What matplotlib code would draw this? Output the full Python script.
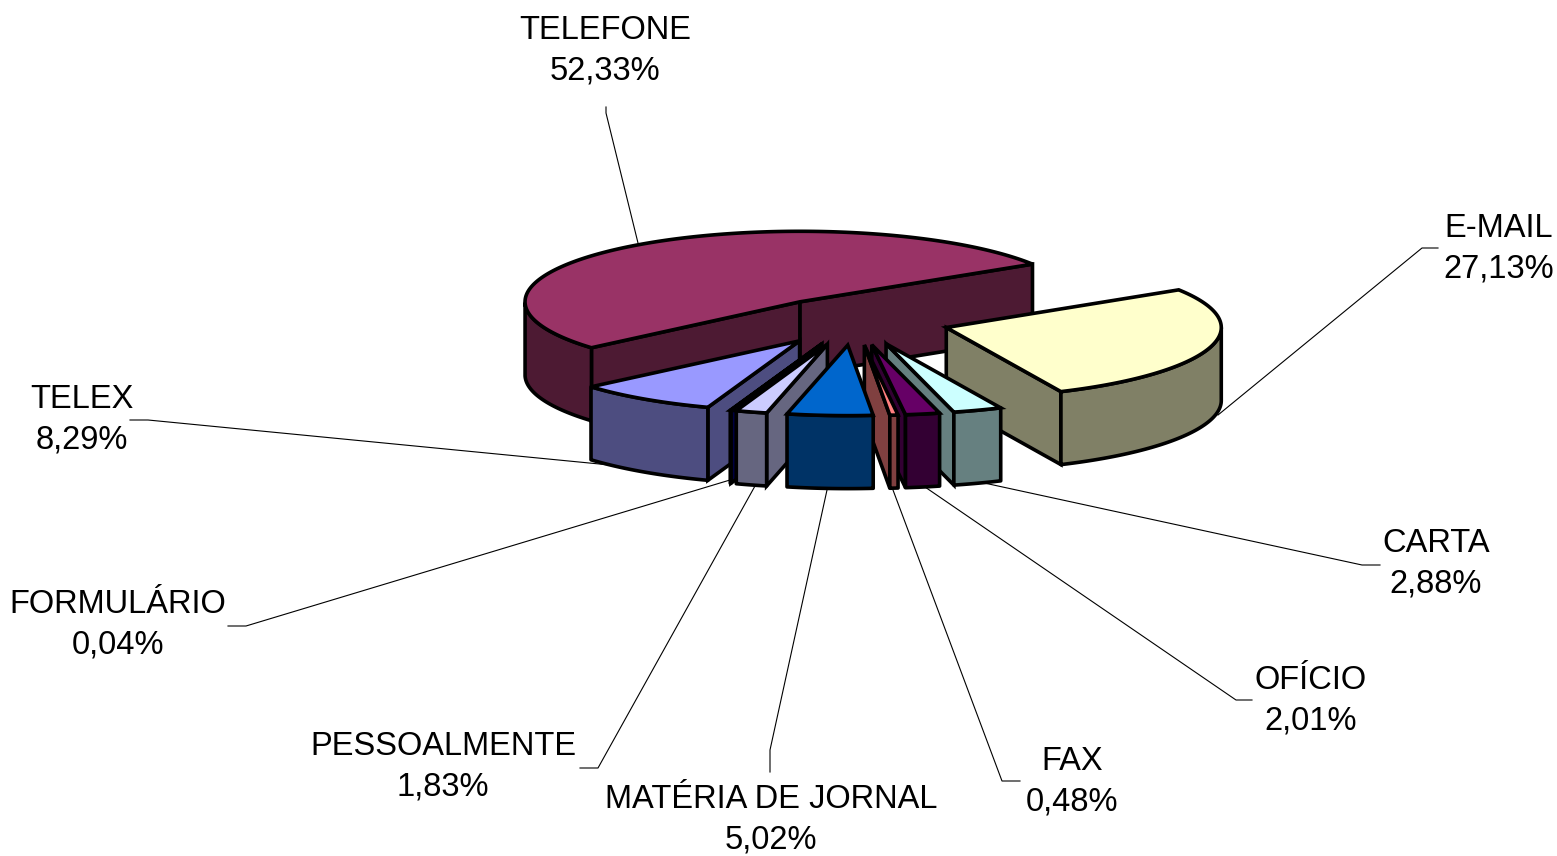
import numpy as np
import matplotlib
matplotlib.use("Agg")
import matplotlib.pyplot as plt
from matplotlib.patches import Polygon

plt.rcParams['font.family'] = ['Liberation Sans', 'DejaVu Sans']

# clockwise starting from e-mail
names = ["E-MAIL", "CARTA", "OFÍCIO", "FAX", "MATÉRIA DE JORNAL", "PESSOALMENTE", "FORMULÁRIO", "TELEX", "TELEFONE"]
values = [27.13, 2.88, 2.01, 0.48, 5.02, 1.83, 0.04, 8.29, 52.33]
tops = ["#FFFFCC", "#CCFFFF", "#660066", "#FF8080", "#0066CC", "#CCCCFF", "#000080", "#9999FF", "#993366"]
sides = ["#808066", "#668080", "#330033", "#804040", "#003366", "#666680", "#000040", "#4D4D80", "#4D1A33"]
explode = [0.35, 0.35, 0.35, 0.35, 0.35, 0.35, 0.35, 0.35, 0.33]

# label centres and leader lines, in pixels
label_pos = [(1499, 249), (1436, 564), (1311, 701), (1072, 782), (771, 820), (443, 767), (118, 625), (82, 420), (605, 51)]
leaders = [[(1438, 248), (1422, 248), (1218, 415)],
           [(1380, 565), (1362, 565), (975, 481)],
           [(1252, 700), (1236, 700), (925, 487)],
           [(1020, 781), (1002, 781), (893, 490)],
           [(770, 772), (770, 750), (827, 490)],
           [(580, 768), (598, 768), (755, 486)],
           [(228, 626), (246, 626), (730, 480)],
           [(130, 420), (148, 420), (620, 466)],
           [(606, 107), (606, 113), (638, 243)]]

CX, CY = 854, 320.5
RX, RY = 275, 70.5
DEPTH = 73
START = 32.3

paint_order = [8, 0, 1, 2, 3, 7, 6, 5, 4]


def pt(ang, r=1.0, apex=(0, 0)):
    a = np.radians(ang)
    return apex[0] + r * RX * np.cos(a), apex[1] - r * RY * np.sin(a)


def wall(ax, a, b, color):
    pts = [a, b, (b[0], b[1] + DEPTH), (a[0], a[1] + DEPTH)]
    ax.add_patch(Polygon(pts, closed=True, fc=color, ec="k", lw=2.6, joinstyle="miter"))


def draw_slice(ax, a1, a2, top, side, exp):
    mid = (a1 + a2) / 2
    apex = pt(mid, exp, (CX, CY))
    # the cut faces that look at the viewer
    if np.sin(np.radians(a1 + 90)) < 0:
        wall(ax, apex, pt(a1, 1, apex), side)
    if np.sin(np.radians(a2 - 90)) < 0:
        wall(ax, apex, pt(a2, 1, apex), side)
    # outer rim, front part only
    angs = np.linspace(a2, a1, 200)
    front = angs[np.sin(np.radians(angs)) < 0]
    if len(front) > 1:
        upper = [pt(t, 1, apex) for t in front]
        lower = [(x, y + DEPTH) for x, y in upper[::-1]]
        ax.add_patch(Polygon(upper + lower, closed=True, fc=side, ec="k", lw=2.6, joinstyle="round"))
    rim = [pt(t, 1, apex) for t in angs]
    ax.add_patch(Polygon([apex] + rim, closed=True, fc=top, ec="k", lw=2.6, joinstyle="miter"))


fig = plt.figure(figsize=(15.57, 8.56), dpi=100)
ax = fig.add_axes([0, 0, 1, 1])
ax.set_xlim(0, 1557)
ax.set_ylim(856, 0)
ax.axis("off")

# leader lines go under the pie
for line in leaders:
    xs, ys = zip(*line)
    ax.plot(xs, ys, color="k", lw=0.8, zorder=0)

ends = START - np.cumsum(values) / sum(values) * 360
begins = np.concatenate(([START], ends[:-1]))
for i in paint_order:
    draw_slice(ax, begins[i], ends[i], tops[i], sides[i], explode[i])

for name, v, (x, y) in zip(names, values, label_pos):
    txt = name + "\n" + f"{v:.2f}".replace(".", ",") + "%"
    ax.text(x, y, txt, ha="center", va="center", fontsize=23.5, linespacing=1.4, color="k")

fig.savefig("out.png", dpi=100)
